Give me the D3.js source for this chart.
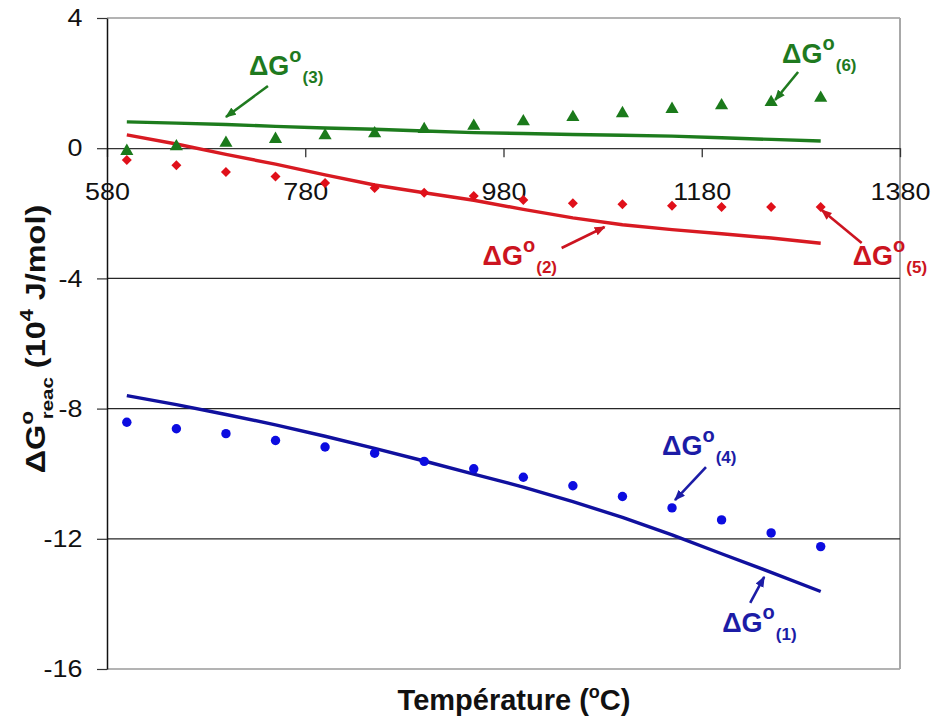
<!DOCTYPE html>
<html><head><meta charset="utf-8">
<script src="https://cdn.jsdelivr.net/npm/d3@7"></script>
<style>body{margin:0;background:#fff}svg{display:block}text{font-family:"Liberation Sans",Arial,sans-serif}</style>
</head><body><svg id="c" width="935" height="719"></svg>
<script>
// ---- data ----
const temperatures = [600,650,700,750,800,850,900,950,1000,1050,1100,1150,1200,1250,1300];
const dG1 = [-7.60,-7.88,-8.18,-8.50,-8.85,-9.22,-9.61,-10.01,-10.41,-10.86,-11.34,-11.88,-12.46,-13.03,-13.62]; // line, blue
const dG2 = [0.41,0.13,-0.19,-0.49,-0.82,-1.13,-1.37,-1.60,-1.88,-2.14,-2.35,-2.50,-2.63,-2.76,-2.92];        // line, red
const dG3 = [0.81,0.77,0.73,0.67,0.62,0.58,0.53,0.48,0.45,0.42,0.40,0.37,0.32,0.27,0.22];                   // line, green
const dG4 = [-8.42,-8.62,-8.77,-8.98,-9.18,-9.37,-9.62,-9.85,-10.11,-10.37,-10.70,-11.05,-11.42,-11.82,-12.24]; // dots, blue
const dG5 = [-0.36,-0.52,-0.73,-0.87,-1.07,-1.22,-1.37,-1.47,-1.59,-1.69,-1.72,-1.77,-1.81,-1.81,-1.81];     // diamonds, red
const dG6 = [-0.09,0.05,0.16,0.28,0.39,0.45,0.58,0.68,0.82,0.95,1.07,1.20,1.31,1.41,1.54];                  // triangles, green
const xTicks = [580,780,980,1180,1380];
const yTicks = [4,0,-4,-8,-12,-16];
const gridValues = [-4,-8,-12];
const labelNums = ["(1)","(2)","(3)","(4)","(5)","(6)"];
// annotation tips in data units (temperature, value)
const annTipT = [1243,1082,700,1153,1301,1254];
const annTipV = [-13.17,-2.42,0.96,-10.81,-1.90,1.48];

// ---- layout / styles ----
const colors = {blueLine:"#10109e", blueDot:"#0c0ce0", blueText:"#1c1ca6",
                redLine:"#d81a22", redDot:"#e0101a", redText:"#cc1420",
                greenLine:"#1d7c1d", greenDot:"#1b7a1b", greenText:"#1f7a1f"};
const annColor = [colors.blueText,colors.redText,colors.greenText,colors.blueText,colors.redText,colors.greenText];
const annTail = [[-14,26],[-43,21],[42,-31],[31,-33],[40,33],[23,-28]];
const annText = [[-42,55],[-122,38],[23,-42],[-13,-45],[31,55],[7,-37]];

const svg = d3.select("#c");
const x = d3.scaleLinear().domain([580,1380]).range([107,900]);
const y = d3.scaleLinear().domain([-16,4]).range([669,18]);

// frame
svg.append("line").attr("x1",x(580)).attr("x2",x(1380)).attr("y1",y(4)).attr("y2",y(4)).attr("stroke","#9a9a9a").attr("stroke-width",1.5);
svg.append("line").attr("x1",x(580)).attr("x2",x(1380)).attr("y1",y(-16)).attr("y2",y(-16)).attr("stroke","#9a9a9a").attr("stroke-width",1.5);
svg.append("line").attr("x1",x(1380)).attr("x2",x(1380)).attr("y1",y(4)).attr("y2",y(-16)).attr("stroke","#a8a8a8").attr("stroke-width",2);
// grid
svg.append("g").selectAll("line").data(gridValues).join("line")
  .attr("x1",x(580)).attr("x2",x(1380)).attr("y1",d=>y(d)).attr("y2",d=>y(d))
  .attr("stroke","#262626").attr("stroke-width",1.2);

// x axis at y=0
const gx = svg.append("g").attr("transform",`translate(0,${y(0)})`)
  .call(d3.axisBottom(x).tickValues(xTicks).tickSize(9).tickSizeOuter(0).tickFormat(d=>String(d)));
gx.select(".domain").attr("stroke","#333").attr("stroke-width",1.3);
gx.selectAll(".tick line").attr("stroke","#333").attr("stroke-width",1.3);
gx.selectAll(".tick text").attr("y",35).attr("dy","0.71em").attr("font-size",24).attr("fill","#111")
  .attr("font-family","Liberation Sans, Arial, sans-serif").attr("transform","scale(1.12,1)");

// y axis
const gy = svg.append("g").attr("transform",`translate(${x(580)},0)`)
  .call(d3.axisLeft(y).tickValues(yTicks).tickSize(10).tickSizeOuter(0).tickFormat(d=>String(d)));
gy.select(".domain").attr("stroke","#111").attr("stroke-width",1.5);
gy.selectAll(".tick line").attr("stroke","#333").attr("stroke-width",1.2);
gy.selectAll(".tick text").attr("x",-22).attr("font-size",24).attr("fill","#111")
  .attr("font-family","Liberation Sans, Arial, sans-serif").attr("transform","scale(1.12,1)");

// lines
const line = d3.line().x((d,i)=>x(temperatures[i])).y(d=>y(d));
[[dG3,colors.greenLine],[dG2,colors.redLine],[dG1,colors.blueLine]].forEach(([arr,c])=>{
  svg.append("path").datum(arr).attr("d",line).attr("fill","none").attr("stroke",c).attr("stroke-width",3.4).attr("stroke-linejoin","round");
});

// markers
svg.append("g").selectAll("path").data(dG6).join("path")
  .attr("transform",(d,i)=>`translate(${x(temperatures[i])},${y(d)})`)
  .attr("d",d3.symbol(d3.symbolTriangle,75)).attr("fill",colors.greenDot);
svg.append("g").selectAll("path").data(dG5).join("path")
  .attr("transform",(d,i)=>`translate(${x(temperatures[i])},${y(d)}) rotate(45)`)
  .attr("d",d3.symbol(d3.symbolSquare,50)).attr("fill",colors.redDot);
svg.append("g").selectAll("circle").data(dG4).join("circle")
  .attr("cx",(d,i)=>x(temperatures[i])).attr("cy",d=>y(d)).attr("r",4.7).attr("fill",colors.blueDot);

// arrowheads
const defs = svg.append("defs");
annColor.forEach((c,i)=>{
  defs.append("marker").attr("id","ah"+i).attr("viewBox","0 0 10 8").attr("refX",9).attr("refY",4)
    .attr("markerWidth",11).attr("markerHeight",9).attr("markerUnits","userSpaceOnUse").attr("orient","auto")
    .append("path").attr("d","M0,0 L10,4 L0,8 z").attr("fill",c);
});

// annotations
labelNums.forEach((lab,i)=>{
  const tx = x(annTipT[i]), ty = y(annTipV[i]);
  svg.append("line").attr("x1",tx+annTail[i][0]).attr("y1",ty+annTail[i][1]).attr("x2",tx).attr("y2",ty)
    .attr("stroke",annColor[i]).attr("stroke-width",2.6).attr("marker-end",`url(#ah${i})`);
  const t = svg.append("text").attr("x",tx+annText[i][0]).attr("y",ty+annText[i][1])
    .attr("fill",annColor[i]).attr("font-weight","bold").attr("font-size",27);
  t.append("tspan").text("ΔG");
  t.append("tspan").attr("font-size",20).attr("dy",-13).text("o");
  t.append("tspan").attr("font-size",17).attr("dy",21).attr("dx",1).text(lab);
});

// x title
const xt = svg.append("text").attr("x",514).attr("y",710).attr("text-anchor","middle")
  .attr("font-weight","bold").attr("font-size",29).attr("fill","#111");
xt.append("tspan").text("Température (");
xt.append("tspan").attr("font-size",18).attr("dy",-12).text("o");
xt.append("tspan").attr("dy",12).text("C)");

// y title
const yg = svg.append("g").attr("transform","translate(45,339) rotate(-90)");
const yt = yg.append("text").attr("text-anchor","middle").attr("font-weight","bold").attr("font-size",27).attr("fill","#111");
yt.append("tspan").text("ΔG");
yt.append("tspan").attr("font-size",19).attr("dy",-12).text("o");
yt.append("tspan").attr("font-size",17).attr("dx",-7).attr("dy",20).text("reac");
yt.append("tspan").attr("dy",-8).text(" (10");
yt.append("tspan").attr("font-size",18).attr("dy",-12).text("4");
yt.append("tspan").attr("dy",12).text(" J/mol)");
const len = yt.node().getComputedTextLength();
yg.attr("transform",`translate(45,339) rotate(-90) scale(${277/len},1)`);
</script></body></html>
